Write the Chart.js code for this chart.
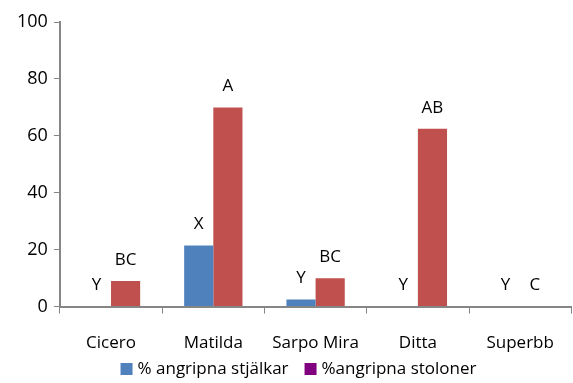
<!DOCTYPE html>
<html>
<head>
<meta charset="utf-8">
<script src="https://cdn.jsdelivr.net/npm/chart.js@4/dist/chart.umd.min.js"></script>
<style>
  html, body { margin: 0; padding: 0; background: #fff; }
  #wrap { width: 573px; height: 383px; }
</style>
</head>
<body>
<div id="wrap"><canvas id="bar-chart" width="573" height="383"></canvas></div>
<script>
const sorter = ['Cicero', 'Matilda', 'Sarpo Mira', 'Ditta', 'Superbb'];
const stjalkar = [0, 21.5, 2.5, 0, 0];
const stoloner = [9, 70, 10, 62.5, 0];
const bokstaverStjalkar = ['Y', 'X', 'Y', 'Y', 'Y'];
const bokstaverStoloner = ['BC', 'A', 'BC', 'AB', 'C'];
const yTicks = [0, 20, 40, 60, 80, 100];
const legendColors = ['#4F81BD', '#800080'];

const fontFam = '"Open Sans", "Liberation Sans", sans-serif';

// letters above each bar
const letterPlugin = {
  id: 'letters',
  afterDatasetsDraw(chart) {
    const ctx = chart.ctx;
    const sets = [bokstaverStjalkar, bokstaverStoloner];
    ctx.save();
    ctx.font = '17px ' + fontFam;
    ctx.fillStyle = '#000';
    ctx.textAlign = 'center';
    ctx.textBaseline = 'middle';
    sets.forEach((letters, di) => {
      const meta = chart.getDatasetMeta(di);
      meta.data.forEach((bar, i) => {
        ctx.fillText(letters[i], bar.x, bar.y - 21);
      });
    });
    ctx.restore();
  }
};

// legend along the bottom, the second swatch is purple like the original
const legendPlugin = {
  id: 'bottomLegend',
  afterDraw(chart) {
    const ctx = chart.ctx;
    ctx.save();
    ctx.font = '17px ' + fontFam;
    ctx.textBaseline = 'middle';
    ctx.textAlign = 'left';
    const box = 12, gap = 5, between = 16;
    const items = chart.data.datasets.map((ds, i) => ({
      text: ds.label, color: legendColors[i], w: box + gap + ctx.measureText(ds.label).width
    }));
    const total = items.reduce((s, it) => s + it.w, 0) + between * (items.length - 1);
    let x = (chart.width - total) / 2 + 12;
    const y = 369;
    items.forEach(it => {
      ctx.fillStyle = it.color;
      ctx.fillRect(x, y - box / 2, box, box);
      ctx.fillStyle = '#000';
      ctx.fillText(it.text, x + box + gap, y);
      x += it.w + between;
    });
    ctx.restore();
  }
};

new Chart(document.getElementById('bar-chart'), {
  type: 'bar',
  data: {
    labels: sorter,
    datasets: [
      {
        label: '% angripna stjälkar',
        backgroundColor: '#4F81BD',
        data: stjalkar,
        categoryPercentage: 0.57,
        barPercentage: 1.0
      },
      {
        label: '%angripna stoloner',
        backgroundColor: '#C0504D',
        data: stoloner,
        categoryPercentage: 0.57,
        barPercentage: 1.0
      }
    ]
  },
  options: {
    responsive: false,
    animation: false,
    layout: { padding: { top: 22, right: 1, left: 11, bottom: 11 } },
    plugins: {
      tooltip: { enabled: false },
      legend: { display: false },
      title: { display: false }
    },
    scales: {
      x: {
        grid: {
          offset: true,
          drawOnChartArea: false,
          drawTicks: true,
          tickLength: 7,
          color: '#868686'
        },
        border: { color: '#868686', width: 2 },
        ticks: {
          color: '#000',
          font: { size: 17, family: fontFam },
          padding: 19,
          maxRotation: 0
        }
      },
      y: {
        min: 0,
        max: 100,
        afterBuildTicks(axis) {
          axis.ticks = yTicks.map(v => ({ value: v }));
        },
        grid: {
          drawOnChartArea: false,
          drawTicks: true,
          tickLength: 6,
          color: '#868686'
        },
        border: { color: '#868686', width: 2 },
        ticks: {
          color: '#000',
          font: { size: 18, family: fontFam },
          padding: 6
        }
      }
    }
  },
  plugins: [letterPlugin, legendPlugin]
});
</script>
</body>
</html>
